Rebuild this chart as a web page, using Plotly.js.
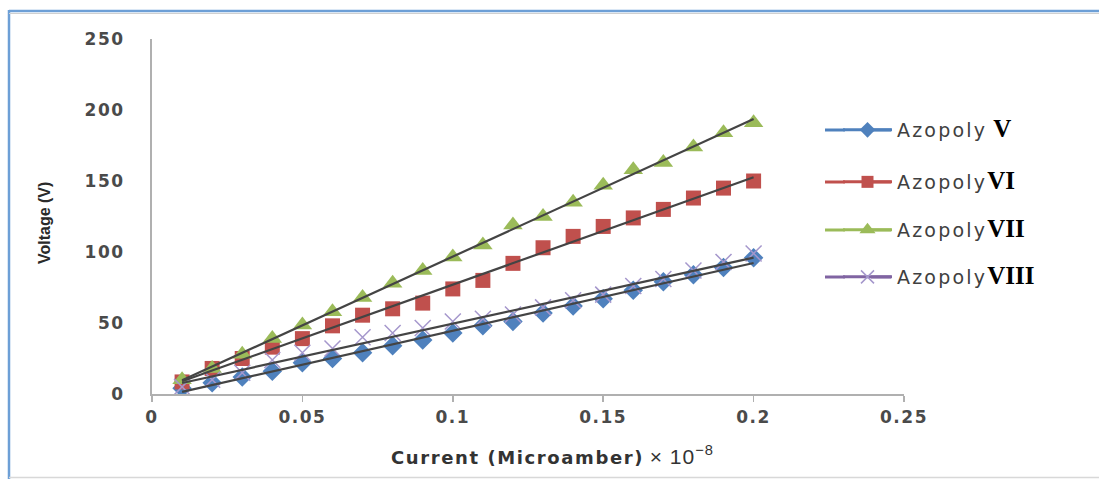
<!DOCTYPE html>
<html>
<head>
<meta charset="utf-8">
<script src="https://cdn.plot.ly/plotly-3.0.1.min.js"></script>
<style>
html,body{margin:0;padding:0;background:#fff;}
#chart{width:1099px;height:479px;}
</style>
</head>
<body>
<div id="chart"></div>
<script>
// ---- data ----
const current = [0.01,0.02,0.03,0.04,0.05,0.06,0.07,0.08,0.09,0.10,0.11,0.12,0.13,0.14,0.15,0.16,0.17,0.18,0.19,0.20];
const azopolyV    = [4, 8, 12, 16, 22, 25, 29, 34, 38, 43, 48, 51, 57, 62, 67, 73, 79, 84, 89, 96];
const azopolyVI   = [8.5, 18, 25, 33, 39, 48, 55.5, 60, 64, 74, 80, 92, 103, 111, 118, 124, 130, 138, 145, 150];
const azopolyVII  = [10, 18, 28, 39, 48.6, 58, 68, 78, 87, 96.5, 105, 119, 125, 135, 147, 158, 163, 174, 184, 191];
const azopolyVIII = [5, 10, 15, 24, 29, 32, 40, 43, 46.5, 51, 53, 56, 61, 66, 70, 76, 81, 87, 93, 99];
const seriesNames = ['V','VI','VII','VIII'];
const xTicks = [0, 0.05, 0.1, 0.15, 0.2, 0.25];
const xTickText = ['0','0.05','0.1','0.15','0.2','0.25'];
const yTicks = [0, 50, 100, 150, 200, 250];
const yTickText = ['0','50','100','150','200','250'];

// ---- layout helpers ----
const W = 1099, H = 479;
const L = 152, R = 904, T = 39, B = 394;
const px = p => (p - L) / (R - L);
const py = q => (B - q) / (B - T);
const spaced = (t, s) => '<span style="letter-spacing:' + s + 'px">' + t + '</span>';

const series = [
  {y: azopolyV,    name: seriesNames[0], color: '#4F81BD', symbol: 'diamond',     size: 15, lineColor: '#4F81BD'},
  {y: azopolyVI,   name: seriesNames[1], color: '#C0504D', symbol: 'square',      size: 15, lineColor: '#C0504D'},
  {y: azopolyVII,  name: seriesNames[2], color: '#9BBB59', symbol: 'triangle-up', size: 17, lineColor: '#9BBB59'},
  {y: azopolyVIII, name: seriesNames[3], color: '#a597cc', symbol: 'x-thin',      size: 16, lineColor: '#8064A2'}
];

function fit(xs, ys){
  const n = xs.length;
  let sx=0, sy=0, sxx=0, sxy=0;
  for(let i=0;i<n;i++){sx+=xs[i];sy+=ys[i];sxx+=xs[i]*xs[i];sxy+=xs[i]*ys[i];}
  const m = (n*sxy - sx*sy)/(n*sxx - sx*sx);
  const b = (sy - m*sx)/n;
  return {m, b};
}

const traces = [];
const legendY = [130, 182, 230, 277];
const legendKeys = ['legend','legend2','legend3','legend4'];

series.forEach((s) => {
  const isX = s.symbol === 'x-thin';
  traces.push({
    type: 'scatter', mode: 'markers', x: current, y: s.y, showlegend: false,
    marker: {symbol: s.symbol, size: s.size, color: s.color,
             line: isX ? {color: s.color, width: 1.5} : {width: 0}},
    hoverinfo: 'x+y'
  });
});
series.forEach((s) => {
  const f = fit(current, s.y);
  const x0 = current[0], x1 = current[current.length-1];
  traces.push({
    type: 'scatter', mode: 'lines', x: [x0, x1], y: [f.m*x0+f.b, f.m*x1+f.b],
    showlegend: false, line: {color: '#444444', width: 2.2}, hoverinfo: 'skip'
  });
});
series.forEach((s, i) => {
  const isX = s.symbol === 'x-thin';
  traces.push({
    type: 'scatter', mode: 'lines+markers', x: [null], y: [null],
    legend: legendKeys[i],
    name: spaced('Azopoly', 2.2) + (i === 0 ? ' ' : '') +
          '<span style="font-family:\'Liberation Serif\';font-size:25px;font-weight:bold;color:#000">' + s.name + '</span>',
    line: {color: s.lineColor, width: 3},
    marker: {symbol: s.symbol, size: s.size - 3, color: s.color,
             line: isX ? {color: s.color, width: 1.5} : {width: 0}}
  });
});

const shapes = [
  {type: 'line', xref: 'paper', yref: 'paper', x0: px(9), x1: px(9), y0: py(10), y1: py(479), line: {color: '#6d9fd6', width: 2.5}},
  {type: 'line', xref: 'paper', yref: 'paper', x0: px(9), x1: px(1099), y0: py(11), y1: py(11), line: {color: '#6d9fd6', width: 2.5}},
  {type: 'line', xref: 'paper', yref: 'paper', x0: px(9), x1: px(1099), y0: py(13.5), y1: py(13.5), line: {color: '#d0d0d0', width: 1}},
  {type: 'line', xref: 'paper', yref: 'paper', x0: px(9), x1: px(1099), y0: py(477.5), y1: py(477.5), line: {color: '#d8d8d8', width: 1.5}}
];
// extend legend sample lines to the reference's longer length
series.forEach((s, i) => {
  shapes.push({type: 'line', xref: 'paper', yref: 'paper', x0: px(825), x1: px(845), y0: py(legendY[i]), y1: py(legendY[i]), line: {color: s.lineColor, width: 3}});
  shapes.push({type: 'line', xref: 'paper', yref: 'paper', x0: px(871), x1: px(891), y0: py(legendY[i]), y1: py(legendY[i]), line: {color: s.lineColor, width: 3}});
});

const layout = {
  width: W, height: H,
  paper_bgcolor: '#fff', plot_bgcolor: '#fff',
  margin: {l: L, r: W - R, t: T, b: H - B, pad: 0},
  font: {family: 'DejaVu Sans', color: '#4a4a4a'},
  xaxis: {
    range: [0, 0.25], tickvals: xTicks, ticktext: xTickText.map(t => spaced(t, 1.5)),
    showgrid: false, zeroline: false, showline: true, linecolor: '#b0b0b0', linewidth: 2,
    ticks: 'outside', ticklen: 6, tickwidth: 1.5, tickcolor: '#b0b0b0',
    tickfont: {family: 'DejaVu Sans', size: 17, color: '#4a4a4a', weight: 'bold'},
    ticklabelstandoff: 1, fixedrange: true
  },
  yaxis: {
    range: [0, 250], tickvals: yTicks, ticktext: yTickText.map(t => spaced(t, 1.5)),
    showgrid: false, zeroline: false, showline: true, linecolor: '#b0b0b0', linewidth: 2,
    ticks: '', tickfont: {family: 'DejaVu Sans', size: 17, color: '#4a4a4a', weight: 'bold'},
    ticklabelstandoff: 22, fixedrange: true
  },
  annotations: [
    {xref: 'paper', yref: 'paper', x: px(44), y: py(223), text: 'Voltage (V)', textangle: -90,
     showarrow: false, xanchor: 'center', yanchor: 'middle',
     font: {family: 'Liberation Sans', size: 16, color: '#2a2a2a', weight: 'bold'}},
    {xref: 'paper', yref: 'paper', x: px(389), y: py(455), xanchor: 'left', yanchor: 'middle', showarrow: false,
     text: '<b>' + spaced('Current (Microamber)', 1.6) + '</b> <span style="font-family:\'Liberation Sans\';font-weight:normal;font-size:21px;color:#333;letter-spacing:1px">× 10<sup>−8</sup></span>',
     font: {family: 'DejaVu Sans', size: 18, color: '#333'}}
  ],
  shapes: shapes
};
legendKeys.forEach((k, i) => {
  layout[k] = {x: px(838), y: py(legendY[i]), xanchor: 'left', yanchor: 'middle',
    bgcolor: 'rgba(0,0,0,0)', borderwidth: 0, itemwidth: 49,
    font: {family: 'DejaVu Sans', size: 19, color: '#404040'}};
});

Plotly.newPlot('chart', traces, layout, {displayModeBar: false, staticPlot: true});
</script>
</body>
</html>
